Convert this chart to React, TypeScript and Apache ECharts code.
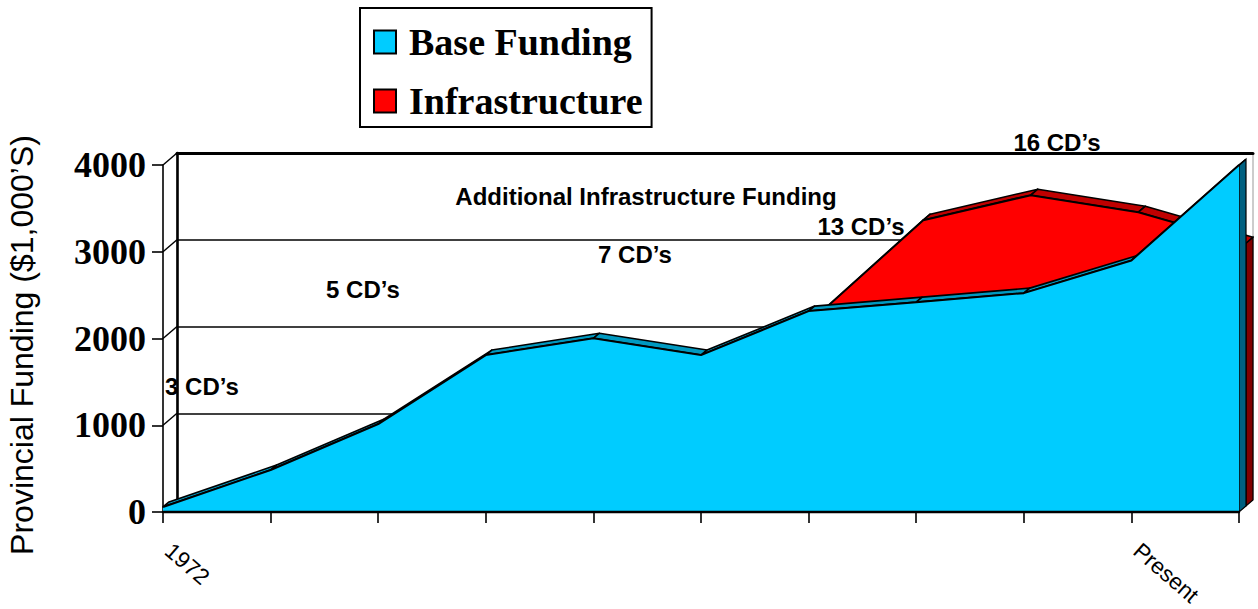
import React, { useEffect, useRef } from "react";
import * as echarts from "echarts";

const categories = ["1972", "", "", "", "", "", "", "", "", "Present", ""];
const baseFunding = [58, 484, 1014, 1809, 2003, 1809, 2316, 2419, 2523, 2900, 4000];
const infrastructureTop = [null, null, null, null, null, null, 2178, 3295, 3583, 3387, 3030];
const yTicks = [0, 1000, 2000, 3000, 4000];

const SERIES_NAMES = ["Base Funding", "Infrastructure"];
const DEPTH_X = 7;
const DEPTH_Y = -6;
const SANS = "'Liberation Sans', Arial, sans-serif";
const SERIF = "'Liberation Serif', 'Times New Roman', serif";

const annotations = [
  { text: "16 CD’s", x: 1057, y: 142 },
  { text: "Additional Infrastructure Funding", x: 646, y: 196 },
  { text: "13 CD’s", x: 861, y: 226 },
  { text: "7 CD’s", x: 635, y: 254 },
  { text: "5 CD’s", x: 363, y: 289 },
  { text: "3 CD’s", x: 202, y: 386 },
];

function segments(values: (number | null)[]) {
  const out: number[][] = [];
  values.forEach((v, i) => {
    const next = values[i + 1];
    if (v != null && next != null) out.push([i, v, next]);
  });
  return out;
}

function topFaces(color: string, dx: number, dy: number) {
  return (_p: any, api: any) => {
    const i = api.value(0);
    const a = api.coord([i, api.value(1)]);
    const b = api.coord([i + 1, api.value(2)]);
    return {
      type: "polygon",
      shape: {
        points: [a, b, [b[0] + dx, b[1] + dy], [a[0] + dx, a[1] + dy]],
      },
      style: { fill: color, stroke: "#000", lineWidth: 1.6, lineJoin: "round" },
    };
  };
}

function sideFace(color: string) {
  return (_p: any, api: any) => {
    const i = api.value(0);
    const a = api.coord([i, api.value(1)]);
    const b = api.coord([i, 0]);
    return {
      type: "polygon",
      shape: {
        points: [a, [a[0] + DEPTH_X, a[1] + DEPTH_Y], [b[0] + DEPTH_X, b[1] + DEPTH_Y], b],
      },
      style: { fill: color, stroke: "#000", lineWidth: 1.2 },
    };
  };
}

function wallDiagonal(_p: any, api: any) {
  const a = api.coord([0, api.value(0)]);
  return {
    type: "line",
    shape: { x1: a[0], y1: a[1], x2: a[0] + 2 * DEPTH_X, y2: a[1] + 2 * DEPTH_Y },
    style: { stroke: "#000", lineWidth: 1.5 },
  };
}

export default function App() {
  const ref = useRef<HTMLDivElement>(null);

  useEffect(() => {
    document.body.style.margin = "0";
    const chart = echarts.init(ref.current!, null, { renderer: "svg" });
    const hiddenX = {
      type: "category" as const,
      data: categories,
      boundaryGap: false,
      show: false,
    };
    const hiddenY = { type: "value" as const, min: 0, max: 4000, interval: 1000, show: false };
    const last = baseFunding.length - 1;

    chart.setOption({
      animation: false,
      backgroundColor: "#fff",
      legend: {
        orient: "vertical",
        left: 360,
        top: 8,
        padding: [15, 9, 7, 13],
        itemGap: 21,
        itemWidth: 22,
        itemHeight: 23,
        selectedMode: false,
        backgroundColor: "#fff",
        borderColor: "#000",
        borderWidth: 2,
        textStyle: {
          fontFamily: SERIF,
          fontWeight: "bold",
          fontSize: 38,
          color: "#000",
          padding: [0, 0, 0, 8],
        },
        data: [
          {
            name: SERIES_NAMES[0],
            icon: "rect",
            itemStyle: { color: "#00ccff", borderColor: "#000", borderWidth: 2 },
          },
          {
            name: SERIES_NAMES[1],
            icon: "rect",
            itemStyle: { color: "#ff0000", borderColor: "#000", borderWidth: 2 },
          },
        ],
      },
      grid: [
        { left: 163, top: 165, width: 1076, height: 347, outerBoundsMode: "none" },
        { left: 170, top: 159, width: 1076, height: 347, outerBoundsMode: "none" },
        {
          left: 177,
          top: 153,
          width: 1076,
          height: 347,
          outerBoundsMode: "none",
          show: true,
          borderColor: "#999",
          borderWidth: 1,
          backgroundColor: "transparent",
        },
      ],
      xAxis: [
        {
          type: "category",
          gridIndex: 0,
          data: categories,
          boundaryGap: false,
          z: 10,
          axisLine: { lineStyle: { color: "#000", width: 2.4 } },
          axisTick: { show: true, length: 11, alignWithLabel: true, interval: 0, lineStyle: { color: "#000", width: 1.6 } },
          axisLabel: {
            interval: 0,
            rotate: -41,
            margin: 31,
            color: "#000",
            fontFamily: SANS,
            fontSize: 22.5,
            padding: [0, 0, 0, 7],
          },
        },
        { ...hiddenX, gridIndex: 1 },
        {
          type: "category",
          gridIndex: 2,
          data: categories,
          boundaryGap: false,
          position: "top",
          axisLine: { onZero: false, lineStyle: { color: "#000", width: 3 } },
          axisTick: { show: false },
          axisLabel: { show: false },
        },
      ],
      yAxis: [
        {
          type: "value",
          gridIndex: 0,
          min: 0,
          max: 4000,
          interval: 1000,
          splitLine: { show: false },
          axisLine: { show: true, lineStyle: { color: "#000", width: 1.6 } },
          axisTick: { show: true, length: 11, lineStyle: { color: "#000", width: 1.6 } },
          axisLabel: {
            margin: 17,
            color: "#000",
            fontFamily: SERIF,
            fontWeight: "bold",
            fontSize: 36,
            padding: [7, 0, 0, 0],
            formatter: (v: number) => String(v),
          },
        },
        { ...hiddenY, gridIndex: 1 },
        {
          type: "value",
          gridIndex: 2,
          min: 0,
          max: 4000,
          interval: 1000,
          splitLine: { show: true, lineStyle: { color: "#000", width: 1.6, type: "solid" } },
          axisLine: { show: true, lineStyle: { color: "#000", width: 2.6 } },
          axisTick: { show: false },
          axisLabel: { show: false },
        },
      ],
      series: [
        {
          type: "custom",
          name: "wall",
          xAxisIndex: 0,
          yAxisIndex: 0,
          z: 1,
          silent: true,
          renderItem: wallDiagonal,
          encode: { y: 0 },
          data: yTicks.map((t) => [t]),
          tooltip: { show: false },
        },
        {
          type: "custom",
          name: "infraSide",
          xAxisIndex: 1,
          yAxisIndex: 1,
          z: 2,
          renderItem: sideFace("#800000"),
          encode: { x: 0, y: 1 },
          data: [[last, infrastructureTop[last]]],
        },
        {
          type: "custom",
          name: "infraTop",
          xAxisIndex: 1,
          yAxisIndex: 1,
          z: 2,
          renderItem: topFaces("#bf0000", DEPTH_X, DEPTH_Y),
          encode: { x: 0, y: 1 },
          data: segments(infrastructureTop),
        },
        {
          type: "line",
          name: SERIES_NAMES[1],
          xAxisIndex: 1,
          yAxisIndex: 1,
          z: 3,
          showSymbol: false,
          symbol: "none",
          data: infrastructureTop,
          itemStyle: { color: "#ff0000" },
          lineStyle: { color: "#000", width: 2 },
          areaStyle: { color: "#ff0000", opacity: 1 },
        },
        {
          type: "custom",
          name: "baseSide",
          xAxisIndex: 0,
          yAxisIndex: 0,
          z: 4,
          renderItem: sideFace("#006080"),
          encode: { x: 0, y: 1 },
          data: [[last, baseFunding[last]]],
        },
        {
          type: "custom",
          name: "baseTop",
          xAxisIndex: 0,
          yAxisIndex: 0,
          z: 4,
          renderItem: topFaces("#0099c0", 6, -5),
          encode: { x: 0, y: 1 },
          data: segments(baseFunding),
        },
        {
          type: "line",
          name: SERIES_NAMES[0],
          xAxisIndex: 0,
          yAxisIndex: 0,
          z: 5,
          showSymbol: false,
          symbol: "none",
          data: baseFunding,
          itemStyle: { color: "#00ccff" },
          lineStyle: { color: "#000", width: 2 },
          areaStyle: { color: "#00ccff", opacity: 1 },
        },
      ],
      graphic: [
        {
          type: "text",
          x: 22,
          y: 345,
          rotation: Math.PI / 2,
          z: 20,
          style: {
            text: "Provincial Funding ($1,000’S)",
            fontFamily: SANS,
            fontSize: 32,
            fill: "#000",
            align: "center",
            verticalAlign: "middle",
          },
        },
        ...annotations.map((a) => ({
          type: "text",
          x: a.x,
          y: a.y,
          z: 20,
          style: {
            text: a.text,
            fontFamily: SANS,
            fontWeight: "bold",
            fontSize: 24,
            fill: "#000",
            align: "center",
            verticalAlign: "middle",
          },
        })),
      ],
    });
    return () => chart.dispose();
  }, []);

  return (
    <div
      ref={ref}
      style={{ position: "absolute", left: 0, top: 0, width: 1258, height: 609 }}
    />
  );
}
